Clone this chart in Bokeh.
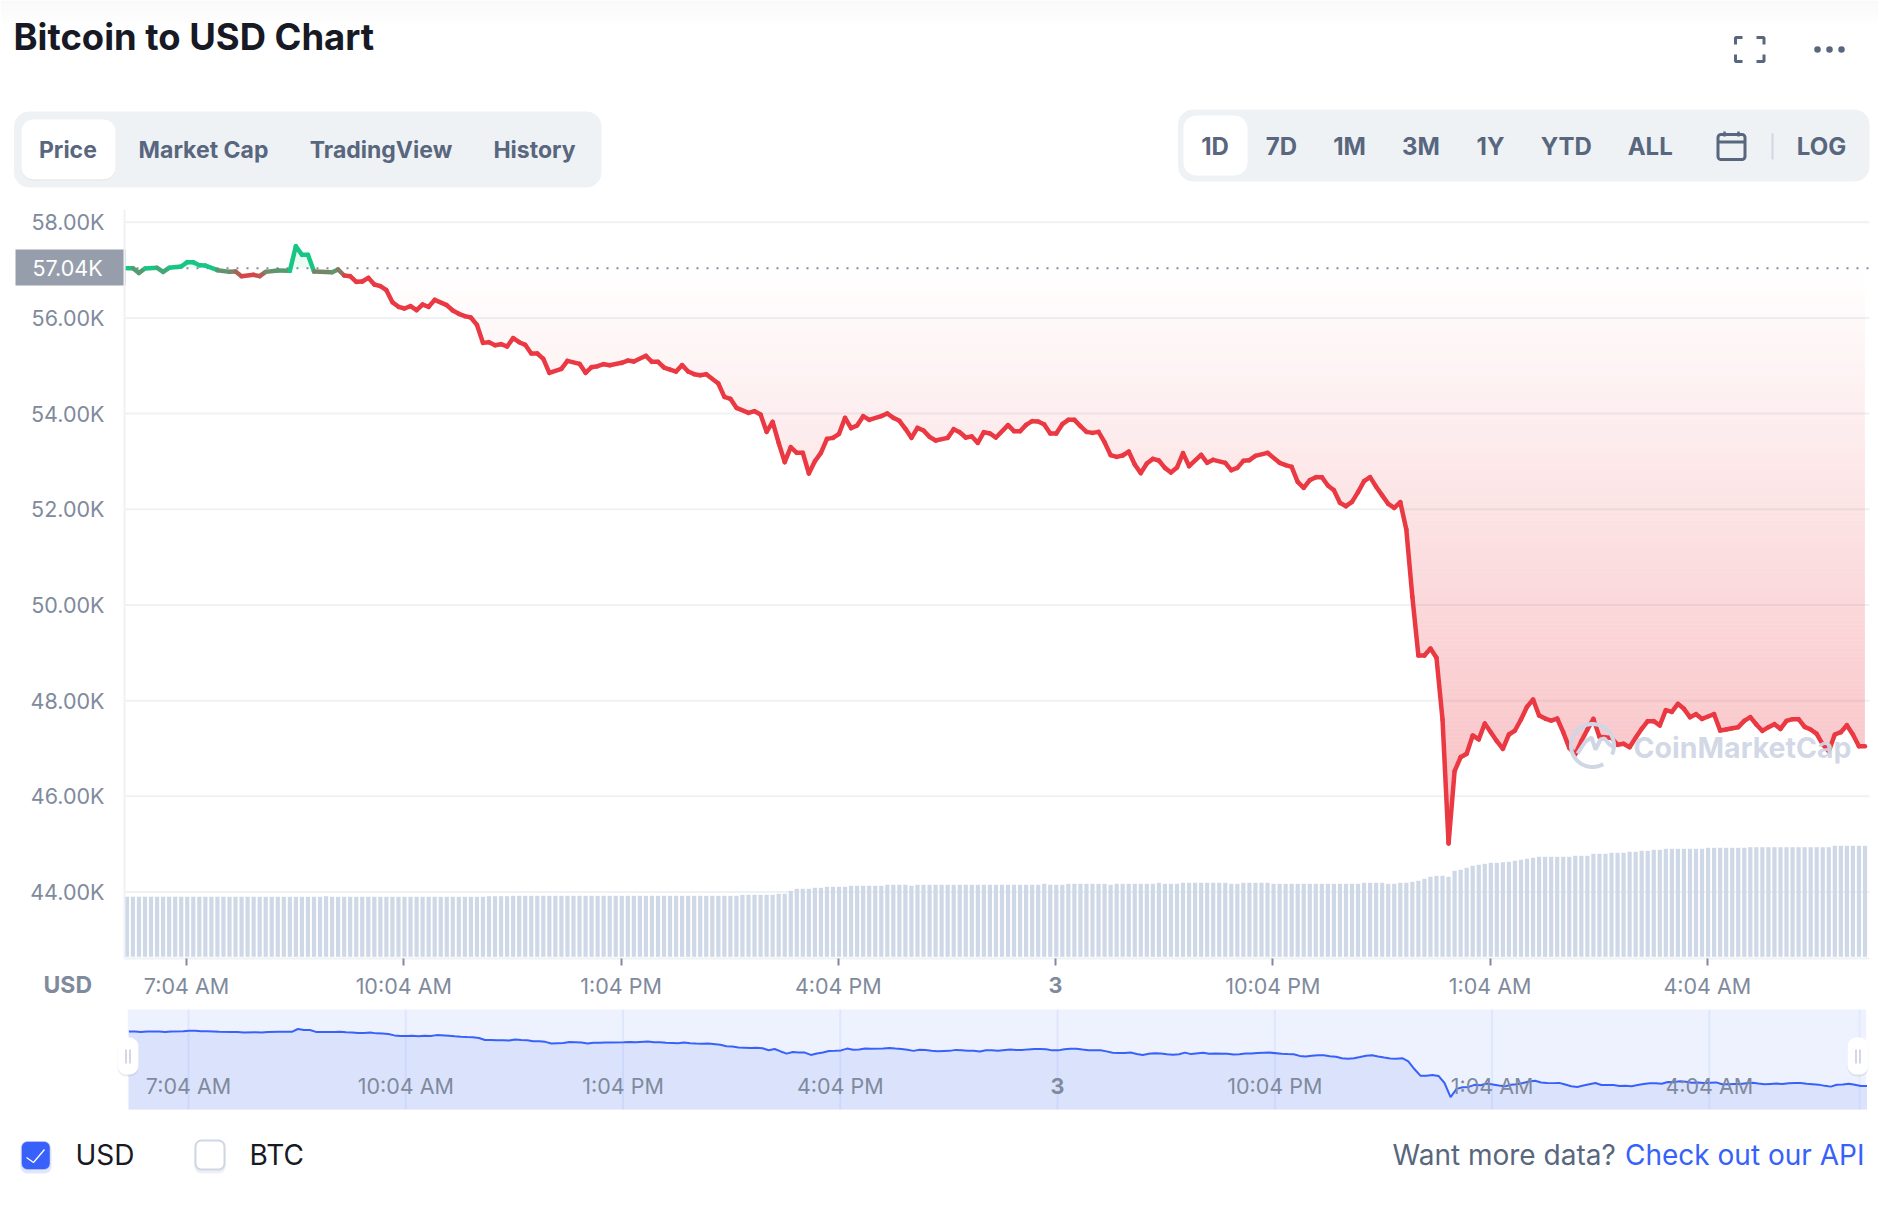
import numpy as np
from bokeh.plotting import figure
from bokeh.models import Range1d, FixedTicker
from bokeh.core.properties import value
from bokeh.embed import file_html
from bokeh.resources import INLINE

# ---------- data ----------
samples = [0,1,2,3,5,6,7,9,10,11,12,13,15,17,18,19,21,22,23,25,27,28,29,30,31,34,35,36,37,38,39,40,41,42,43,44,45,46,47,48,49,50,51,53,54,55,56,57,58,59,60,61,62,63,64,65,66,67,68,69,70,72,73,75,76,77,78,79,80,82,83,84,86,87,88,89,90,91,92,93,94,95,96,
 98,99,100,101,103,104,105,106,107,108,109,110,111,112,113,114,115,116,117,118,119,120,121,122,123,125,126,127,128,129,130,131,132,133,134,136,137,138,139,140,141,142,143,144,146,147,148,149,150,151,152,153,154,155,156,157,158,159,160,161,162,163,164,165,166,167,168,169,170,171,172,173,174,175,176,178,179,180,182,183,184,185,186,187,189,191,192,193,194,195,196,197,198,199,200,201,202,203,204,205,206,207,208,209,210,211,
 212,213,214,215,216,217,218,219,220,221,222,223,224,225,226,227,228,229,230,231,232,233,234,235,236,237,238,239,240,241,242,243,244,245,246,247,248,249,250,251,252,253,254,255,256,257,258,259,260,261,262,263,264,265,266,267,268,269,270,271,272,273,274,275,276,277,278,279,280,281,282,283,284,285,286,287,288]
prices = [57039,57039,56941,57032,57046,56962,57046,57074,57164,57164,57102,57095,56997,56962,56969,56872,56900,56872,56962,56990,56983,57499,57318,57318,56969,56955,57011,56886,56872,56753,56760,56837,56698,56663,56579,56328,56231,56196,56245,56161,56280,56231,56377,56266,56154,56085,56036,56008,55855,55478,55492,55430,55451,55402,55576,55492,55437,55256,55256,55144,54852,54935,55102,55040,54852,54970,54991,55033,55012,55061,55109,55088,55207,55081,55081,54963,54921,54879,55012,54879,54824,54803,54824,
 54629,54350,54308,54120,54015,54050,53981,53618,53827,53388,52984,53298,53180,53180,52748,53005,53180,53472,53493,53577,53911,53695,53751,53946,53869,53946,54002,53911,53848,53681,53493,53702,53646,53514,53437,53493,53674,53611,53500,53521,53388,53611,53584,53500,53758,53632,53632,53765,53841,53834,53772,53584,53584,53779,53869,53869,53737,53618,53597,53618,53402,53131,53096,53124,53207,52936,52755,52957,53054,53019,52866,52769,52873,53173,52901,53138,52971,53033,52971,52817,52866,53012,53026,53117,53180,52971,52922,52887,52573,52448,52608,52671,52671,52497,52399,52135,52065,52156,52358,52587,52671,52470,52290,52114,52030,52149,
 51577,50170,48944,48944,49090,48895,47606,45015,46527,46819,46889,47272,47189,47523,47340,47154,46993,47293,47376,47606,47871,48024,47690,47627,47585,47627,47341,47014,46880,47153,47397,47620,47244,47230,47223,47077,47098,47028,47223,47411,47571,47571,47481,47801,47766,47934,47829,47655,47718,47620,47669,47718,47376,47397,47425,47446,47578,47655,47502,47369,47446,47509,47411,47578,47613,47613,47453,47397,47307,47084,46944,47293,47341,47488,47293,47049,47049]
volumes = ([30]*33 + [30.3] + [30]*26 + [30.3]*4 + [30.5]*38 + [31]*6 + [31.5]*2 + [33] + [34]*3 + [34.5]*2
           + [35]*4 + [35.5]*6 + [36]*4 + [35.5] + [36]*21 + [36.5] + [36]*3 + [36.5]*7 + [36] + [36.5]*7 + [37]
           + [36.5]*3 + [37]*8 + [36.5]*2 + [37]*5 + [36.5]*15 + [37]*4 + [36.5]*2 + [37]*2 + [37.5] + [38] + [39]
           + [40] + [40.5]*2 + [40] + [43] + [43.5] + [44.5] + [45.5] + [46] + [46.5] + [47]*2 + [47.3] + [47.5]
           + [48] + [48.5] + [49] + [49.5] + [50]*6 + [50.5]*3 + [51.5]*3 + [52]*3 + [52.5]*2 + [53]*2 + [53.5]*2
           + [54]*7 + [54.5]*7 + [54.8]*14 + [55.5]*6)
baseline = 57040
y_ticks = [44000, 46000, 48000, 50000, 52000, 54000, 56000, 58000]
y_labels = ["44.00K", "46.00K", "48.00K", "50.00K", "52.00K", "54.00K", "56.00K", "58.00K"]
x_ticks = [0, 3, 6, 9, 12, 15, 18, 21]
x_labels = ["7:04 AM", "10:04 AM", "1:04 PM", "4:04 PM", "3", "10:04 PM", "1:04 AM", "4:04 AM"]
tabs = ["Price", "Market Cap", "TradingView", "History"]
ranges_ = ["1D", "7D", "1M", "3M", "1Y", "YTD", "ALL", "LOG"]

FONT = "Inter"
GRAY = "#808a9d"
SLATE = "#58667e"
RED = (234, 57, 67)
GREEN = (22, 199, 132)
GRID = "#eff2f5"

hours = np.array(samples) / 12 - 0.823
price = np.array(prices, dtype=float)

PAGE_L, PAGE_R, PAGE_T, PAGE_B = 1, 1879, 1, 1191
TOP, BOT, LEFT, RIGHT = 210, 959, 125, 1870
PX_H, PX_V = 72.42, 20.9
tx = lambda px: (np.asarray(px, dtype=float) - 187) / PX_H
ty = lambda py: 58000 - (np.asarray(py, dtype=float) - 222.7) * PX_V
MX = lambda px: (np.asarray(px, dtype=float) - 189) / PX_H
MY = lambda py: 57040 - (np.asarray(py, dtype=float) - 1032) * 183.15

p = figure(width=PAGE_R - PAGE_L, height=PAGE_B - PAGE_T, output_backend="svg", toolbar_location=None,
           x_range=Range1d(float(tx(PAGE_L)), float(tx(PAGE_R))), y_range=Range1d(float(ty(PAGE_B)), float(ty(PAGE_T))),
           min_border=0)
p.outline_line_color = None
p.grid.visible = False
p.extra_x_ranges = {"px": Range1d(PAGE_L, PAGE_R), "mx": Range1d(float(MX(PAGE_L)), float(MX(PAGE_R)))}
p.extra_y_ranges = {"px": Range1d(PAGE_B, PAGE_T), "my": Range1d(float(MY(PAGE_B)), float(MY(PAGE_T))),
                    "vol": Range1d(-(PAGE_B - 957.3) / 2, (957.3 - PAGE_T) / 2)}
PX = dict(x_range_name="px", y_range_name="px")
NAV = dict(x_range_name="mx", y_range_name="my")


def rrect(x0, y0, x1, y1, r):
    a = np.linspace(0, np.pi / 2, 7)
    xs, ys = [], []
    for cx, cy, s in ((x1 - r, y0 + r, 0), (x1 - r, y1 - r, 1), (x0 + r, y1 - r, 2), (x0 + r, y0 + r, 3)):
        th = a + s * np.pi / 2 - np.pi / 2
        xs += list(cx + r * np.cos(th))
        ys += list(cy + r * np.sin(th))
    return np.array(xs), np.array(ys)


def txt(x, y, s, size, color, align="left", style="normal", ranges=PX, alpha=1.0):
    p.text([x], [y], text=[s], text_font=value(FONT), text_font_size=value(f"{size}px"), text_color=color,
           text_align=align, text_baseline="middle", text_font_style=style, text_alpha=alpha, **ranges)


def box(x0, y0, x1, y1, r, **kw):
    p.patch(*rrect(x0, y0, x1, y1, r), **PX, **kw)


# ---------- header ----------
for k in range(15):
    p.quad(left=PAGE_L, right=PAGE_R, top=1 + 2 * k, bottom=3 + 2 * k, fill_color="#000000",
           fill_alpha=0.022 * (1 - k / 15), line_color=None, **PX)
txt(14, 37, "Bitcoin to USD Chart", 36.4, "#171924", style="bold")
box(14.5, 112, 602, 188, 15, fill_color=GRID, line_color=None)
box(22, 121, 116, 181, 12, fill_color="#000000", fill_alpha=0.06, line_color=None)
box(22, 120, 116, 180, 12, fill_color="#ffffff", line_color=None)
for s, x in zip(tabs, [68.4, 204, 381.5, 535]):
    txt(x, 150, s, 23, SLATE, "center", "bold")
box(1178.5, 110, 1870, 182, 15, fill_color=GRID, line_color=None)
box(1184, 116, 1248, 176, 13, fill_color="#ffffff", line_color=None)
for s, x in zip(ranges_, [1215.5, 1282, 1350, 1421.5, 1491, 1566.7, 1650.7, 1822]):
    txt(x, 147, s, 24, SLATE, "center", "bold")
box(1718.5, 135, 1745.5, 160, 3, fill_color=None, line_color=SLATE, line_width=3)
p.line([1718, 1746], [142.5, 142.5], line_color=SLATE, line_width=3, **PX)
p.segment([1725, 1739], [132, 132], [1725, 1739], [137, 137], line_color=SLATE, line_width=2.5, **PX)
p.line([1773, 1773], [134, 160], line_color="#cfd6e4", line_width=2, **PX)
for xs_, ys_ in (([1736, 1736, 1743], [45, 38, 38]), ([1757, 1764.5, 1764.5], [38, 38, 45]),
                 ([1736, 1736, 1743], [55, 62, 62]), ([1757, 1764.5, 1764.5], [62, 62, 55])):
    p.line(xs_, ys_, line_color=SLATE, line_width=3, **PX)
p.scatter([1818, 1830, 1842], [50, 50, 50], size=6.5, fill_color=SLATE, line_color=None, **PX)

# ---------- main chart ----------
p.xaxis.fixed_location = float(ty(BOT))
p.yaxis.fixed_location = float(tx(LEFT))
p.xaxis.bounds = (float(tx(LEFT)), float(tx(RIGHT)))
p.yaxis.bounds = (float(ty(BOT)), float(ty(TOP)))
p.xaxis.ticker = FixedTicker(ticks=x_ticks)
p.xaxis.major_label_overrides = {t: ("" if s == "3" else s) for t, s in zip(x_ticks, x_labels)}
p.yaxis.ticker = FixedTicker(ticks=y_ticks)
p.yaxis.major_label_overrides = dict(zip(y_ticks, y_labels))
for ax in (p.xaxis, p.yaxis):
    ax.axis_line_color = GRID
    ax.axis_line_width = 2
    ax.major_label_text_font = FONT
    ax.major_label_text_font_size = "21.5px"
    ax.major_label_text_color = GRAY
    ax.minor_tick_line_color = None
p.xaxis.major_tick_in = 0
p.xaxis.major_tick_out = 7
p.xaxis.major_tick_line_color = GRAY
p.xaxis.major_tick_line_width = 2
p.xaxis.major_label_standoff = 7
p.yaxis.major_tick_line_color = None
p.yaxis.major_label_standoff = 14

# horizontal grid
p.segment([float(tx(LEFT))] * 8, y_ticks, [float(tx(RIGHT))] * 8, y_ticks, line_color=GRID, line_width=2)

# volume bars
bar_hours = np.arange(len(volumes)) / 12 - 0.823
p.vbar(x=bar_hours, top=volumes, bottom=0, width=4.2 / PX_H, y_range_name="vol", fill_color="#cfd8e6", line_color=None)

# gradient fill towards the baseline
fine = np.arange(hours[0], hours[-1] + 1e-6, 2 / PX_H)
fine_p = np.interp(fine, hours, price)
by0 = 269
for row in range(0, 148):
    y_top, y_bot = by0 + 4 * row, by0 + 4 * row + 4
    hi, lo = float(ty(y_top)), float(ty(y_bot))
    a = (y_top + 2 - 268) * 0.00058
    p.varea(fine, np.full_like(fine, hi), np.clip(fine_p, lo, hi), fill_color="#ea3943", fill_alpha=a)
p.varea(fine, np.full_like(fine, baseline), np.maximum(fine_p, baseline), fill_color="#16c784", fill_alpha=0.08)

# previous-close dotted line
p.line([float(tx(127)), float(tx(RIGHT))], [baseline, baseline], line_color=GRAY, line_width=2, line_dash="2 8")


# price line, coloured around the baseline
def blend(v):
    t = float(np.clip((baseline - v) / 170, 0, 1))
    c = [int(GREEN[k] + (RED[k] - GREEN[k]) * t) for k in range(3)]
    return "#%02x%02x%02x" % tuple(c)


seg_col = [blend((price[k] + price[k + 1]) / 2) for k in range(len(price) - 1)]
p.segment(x0=hours[:-1], y0=price[:-1], x1=hours[1:], y1=price[1:], line_color=seg_col, line_width=4.5, line_cap="round")

# watermark
WM = "#cfd6e4"
ang = np.radians(np.linspace(-25, 300, 70))
p.line(1593 + 21.5 * np.cos(ang), 746 - 21.5 * np.sin(ang), line_color=WM, line_width=4, **PX)
p.line([1578, 1586, 1592, 1596, 1601, 1605, 1610, 1615], [754, 742, 738, 750, 740, 739, 745, 748],
       line_color=WM, line_width=4, **PX)
txt(1634, 748, "CoinMarketCap", 28.5, WM, style="bold", alpha=0.95)

# price flag and labels around the axes
p.quad(left=16, right=126, top=250, bottom=286, fill_color="#979eab", line_color=None, **PX)
txt(33, 268.5, "57.04K", 21.5, "#ffffff")
txt(44, 985, "USD", 23, GRAY, style="bold")
txt(float(187 + 12 * PX_H), 985, "3", 21.5, GRAY, "center", "bold")

# ---------- navigator ----------
p.quad(left=128.3, right=1866.7, top=1010, bottom=1110, fill_color="#eef2fe", line_color=None, **PX)
p.varea(hours, np.full_like(hours, float(MY(1110))), price, fill_color="#dbe3fc", **NAV)
p.segment(x_ticks, [float(MY(1010))] * 8, x_ticks, [float(MY(1110))] * 8, line_color="#3861fb", line_alpha=0.08, line_width=2, **NAV)
p.line([1860, 1860], [1010, 1110], line_color="#3861fb", line_alpha=0.06, line_width=2, **PX)
p.line(hours, price, line_color="#3861fb", line_width=2, **NAV)
for t, s in zip(x_ticks, x_labels):
    txt(t, float(MY(1086)), s, 21.5, GRAY, "center", "bold" if s == "3" else "normal", ranges=NAV)
for x0, x1 in ((118, 139), (1848, 1869)):
    box(x0, 1039, x1, 1077, 9, fill_color="#8a94a8", fill_alpha=0.18, line_color=None)
    box(x0, 1038, x1, 1075, 9, fill_color="#ffffff", line_color=None)
    cx = (x0 + x1) / 2
    p.segment([cx - 2, cx + 2], [1050, 1050], [cx - 2, cx + 2], [1064, 1064], line_color="#c3ccdb", line_width=1.5, **PX)

# ---------- footer ----------
box(21, 1143, 52, 1174, 7, fill_color="#3861fb", fill_alpha=0.16, line_color=None)
box(22, 1142, 50.5, 1170, 6, fill_color="#3861fb", line_color="#cfd6e4", line_alpha=0.5, line_width=1)
p.line([27, 34, 45], [1158, 1163, 1150], line_color="#ffffff", line_width=1.3, **PX)
txt(76, 1155.5, "USD", 28, "#171924")
box(195, 1143, 226, 1174, 7, fill_color="#58667e", fill_alpha=0.10, line_color=None)
box(196, 1141, 225, 1170, 6, fill_color="#ffffff", line_color="#cfd6e4", line_width=2)
txt(250, 1155.5, "BTC", 28, "#171924")
txt(1393, 1155.5, "Want more data?", 28, SLATE)
txt(1625.5, 1155.5, "Check out our API", 28, "#3861fb")

open("out.html", "w").write(file_html(p, INLINE))
